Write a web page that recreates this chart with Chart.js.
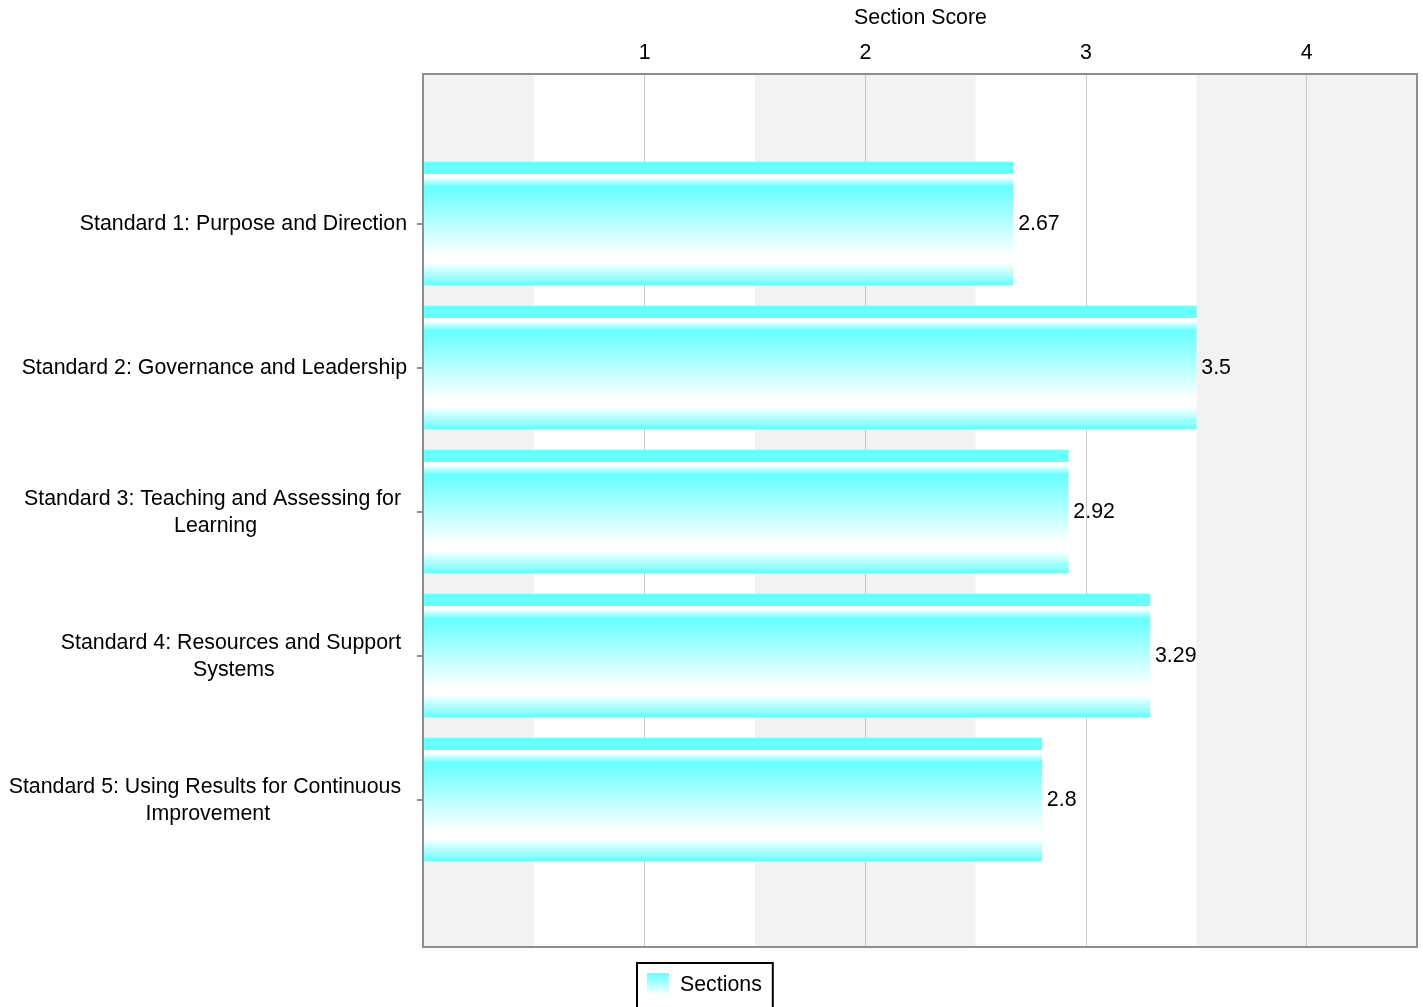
<!DOCTYPE html>
<html>
<head>
<meta charset="utf-8">
<title>Section Score</title>
<script src="https://cdn.jsdelivr.net/npm/chart.js@4.4.1/dist/chart.umd.min.js"></script>
<style>
  html, body { margin: 0; padding: 0; background: #ffffff; }
  #wrap { position: relative; width: 1423px; height: 1007px; }
</style>
</head>
<body>
<div id="wrap"><canvas id="chart"></canvas></div>
<script>
// Standard labels, already split into display lines
const categories = [
  ['Standard 1: Purpose and Direction'],
  ['Standard 2: Governance and Leadership'],
  ['Standard 3: Teaching and Assessing for ', 'Learning'],
  ['Standard 4: Resources and Support ', 'Systems'],
  ['Standard 5: Using Results for Continuous ', 'Improvement']
];
const sectionScores = [2.67, 3.5, 2.92, 3.29, 2.8];
const seriesName = 'Sections';
const axisTitle = 'Section Score';
const scoreTicks = [1, 2, 3, 4];
const shadedBands = [[0, 0.5], [1.5, 2.5], [3.5, 4.5]];

const FONT = '"Liberation Sans", Arial, Helvetica, sans-serif';
const FONT_SIZE = 21.33;
const CYAN = '#66ffff';
const BAR_THICKNESS = 123;

// Vertical cyan/white sheen for each bar
function barGradient(ctx) {
  const chart = ctx.chart;
  if (!chart.chartArea || !ctx.parsed) return CYAN;
  const yScale = chart.scales.y;
  const c = yScale.getPixelForValue(ctx.parsed.y);
  const top = c - BAR_THICKNESS / 2, bottom = c + BAR_THICKNESS / 2;
  const g = chart.ctx.createLinearGradient(0, top, 0, bottom);
  g.addColorStop(0, CYAN);
  g.addColorStop(0.095, CYAN);
  g.addColorStop(0.1, '#ffffff');
  g.addColorStop(0.12, '#ffffff');
  g.addColorStop(0.2, CYAN);
  g.addColorStop(0.76, '#ffffff');
  g.addColorStop(0.82, '#ffffff');
  g.addColorStop(1, CYAN);
  return g;
}

const decorations = {
  id: 'decorations',
  beforeDraw(chart) {
    const { ctx, chartArea: a, scales: { x } } = chart;
    ctx.save();
    ctx.fillStyle = '#f2f2f2';
    shadedBands.forEach(([s, e]) => {
      const x0 = x.getPixelForValue(s), x1 = x.getPixelForValue(e);
      ctx.fillRect(x0, a.top, x1 - x0, a.bottom - a.top);
    });
    ctx.restore();
  },
  afterDatasetsDraw(chart) {
    const { ctx, chartArea: a } = chart;
    ctx.save();
    // value labels at the bar ends
    ctx.font = FONT_SIZE + 'px ' + FONT;
    ctx.fillStyle = '#000';
    ctx.textAlign = 'left';
    ctx.textBaseline = 'middle';
    chart.getDatasetMeta(0).data.forEach((bar, i) => {
      ctx.fillText(String(sectionScores[i]), bar.x + 5, bar.y + 1);
    });
    // plot frame
    ctx.strokeStyle = '#8e8e8e';
    ctx.lineWidth = 2;
    ctx.strokeRect(a.left - 1, a.top - 1, a.right - a.left + 1, a.bottom - a.top + 1);
    ctx.restore();
  },
  afterDraw(chart) {
    const { ctx, scales: { y } } = chart;
    ctx.save();
    ctx.font = FONT_SIZE + 'px ' + FONT;
    ctx.fillStyle = '#000';
    ctx.textAlign = 'center';
    ctx.textBaseline = 'middle';
    const rightEdge = 407, lineH = 27;
    categories.forEach((lines, i) => {
      const cy = y.getPixelForValue(i);
      const blockW = Math.max(...lines.map(l => ctx.measureText(l).width));
      const cx = rightEdge - blockW / 2;
      lines.forEach((line, k) => {
        ctx.fillText(line, cx, cy + (k - (lines.length - 1) / 2) * lineH + 1);
      });
    });

    // legend box
    const textW = ctx.measureText(seriesName).width;
    const boxW = 10 + 22 + 11 + textW + 11;
    const bx = Math.round(chart.width / 2 - 6.5 - boxW / 2);
    const by = 963;
    ctx.strokeStyle = '#000';
    ctx.lineWidth = 2;
    ctx.strokeRect(bx, by, boxW, 60);
    const sx = bx + 10, sy = by + 10;
    const g = ctx.createLinearGradient(0, sy, 0, sy + 22);
    g.addColorStop(0, CYAN);
    g.addColorStop(1, '#ffffff');
    ctx.fillStyle = g;
    ctx.fillRect(sx, sy, 22, 22);
    ctx.fillStyle = '#000';
    ctx.textAlign = 'left';
    ctx.fillText(seriesName, sx + 33, sy + 12);
    ctx.restore();
  }
};

new Chart(document.getElementById('chart'), {
  type: 'bar',
  data: {
    datasets: [{
      label: seriesName,
      data: sectionScores.map((v, i) => ({ x: v, y: i })),
      backgroundColor: barGradient,
      borderWidth: 0,
      barThickness: BAR_THICKNESS
    }]
  },
  options: {
    indexAxis: 'y',
    responsive: true,
    maintainAspectRatio: false,
    animation: false,
    layout: { padding: { left: 0, right: 6, top: 0, bottom: 60 } },
    plugins: { legend: { display: false }, tooltip: { enabled: false } },
    scales: {
      x: {
        type: 'linear',
        position: 'top',
        min: 0,
        max: 4.5,
        afterBuildTicks: s => { s.ticks = scoreTicks.map(v => ({ value: v })); },
        afterFit: s => { s.height = 75; },
        ticks: { padding: 9, color: '#000', font: { family: FONT, size: FONT_SIZE } },
        grid: { color: '#c8c8c8', lineWidth: 1, drawTicks: false },
        border: { display: false },
        title: {
          display: true,
          text: axisTitle,
          color: '#000',
          font: { family: FONT, size: FONT_SIZE },
          padding: { top: 5, bottom: 9 }
        }
      },
      y: {
        type: 'linear',
        reverse: true,
        offset: false,
        min: -1.03125,
        max: 5.0243,
        afterBuildTicks: s => { s.ticks = categories.map((_, i) => ({ value: i })); },
        afterFit: s => { s.width = 424; },
        ticks: { display: false },
        grid: { offset: false, drawOnChartArea: false, drawTicks: true, tickLength: 7, color: '#8e8e8e', lineWidth: 2 },
        border: { display: false }
      }
    }
  },
  plugins: [decorations]
});
</script>
</body>
</html>
